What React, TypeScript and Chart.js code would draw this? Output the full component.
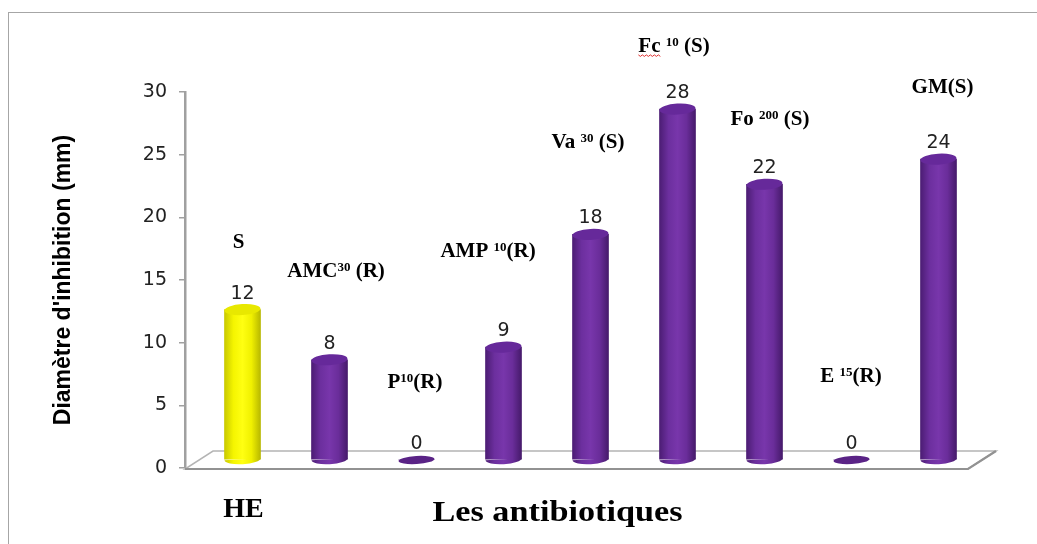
import React, { useEffect, useRef } from 'react';
import { Chart, registerables } from 'chart.js';

Chart.register(...registerables);

// ---- data ----
const categories = ['HE', 'AMC', 'P', 'AMP', 'Va', 'Fc', 'Fo', 'E', 'GM'];
const diameters = [12, 8, 0, 9, 18, 28, 22, 0, 24];
const yTicks = [0, 5, 10, 15, 20, 25, 30];
const yAxisTitle = "Diamètre d'inhibition (mm)";
const xAxisTitle = 'Les antibiotiques';

// annotation texts (name, superscript, suffix)
const annotationMain = ['S', 'AMC', 'P', 'AMP ', 'Va ', 'Fc ', 'Fo ', 'E ', 'GM(S)'];
const annotationSup = ['', '30', '10', '10', '30', '10', '200', '15', ''];
const annotationSuffix = ['', ' (R)', '(R)', '(R)', ' (S)', ' (S)', ' (S)', '(R)', ''];

// annotation layout (category units / value units)
const annotationX = [0.115, 1.236, 2.144, 2.983, 4.132, 5.121, 6.224, 7.155, 8.207];
const annotationY = [17.56, 15.24, 6.38, 16.84, 25.54, 33.2, 27.37, 6.86, 29.93];
const annotationSquiggle = [false, false, false, false, false, true, false, false, false];

// styles
const barStyles = ['yellow', 'purple', 'purple', 'purple', 'purple', 'purple', 'purple', 'purple', 'purple'];
const palettes: Record<string, { stops: [number, string][]; top: string; disc: string }> = {
  yellow: {
    stops: [[0, '#c9c900'], [0.25, '#f5f500'], [0.5, '#ffff12'], [0.75, '#f0f000'], [1, '#b8b800']],
    top: '#e8e800',
    disc: '#d6d600',
  },
  purple: {
    stops: [[0, '#4c1d74'], [0.25, '#6c2f9e'], [0.5, '#7836ab'], [0.75, '#6a2d9a'], [1, '#461a6b']],
    top: '#66299a',
    disc: '#5a2386',
  },
};

const SHIFT_X = 14;
const SHIFT_Y = -8;
const FLOOR_DX = 28;
const FLOOR_DY = 18;
const ROT = -0.06;

function barGradient(ctx: CanvasRenderingContext2D, x: number, w: number, key: string) {
  const g = ctx.createLinearGradient(x - w / 2, 0, x + w / 2, 0);
  palettes[key].stops.forEach(([o, c]) => g.addColorStop(o, c));
  return g;
}

const cylinderPlugin = {
  id: 'cylinders',
  beforeDraw(chart: any) {
    const ctx = chart.ctx as CanvasRenderingContext2D;
    ctx.save();
    ctx.strokeStyle = '#a6a6a6';
    ctx.lineWidth = 1;
    ctx.strokeRect(8.5, 12.5, 1200, 800);
    ctx.restore();
  },
  beforeDatasetsDraw(chart: any) {
    const ctx = chart.ctx as CanvasRenderingContext2D;
    const a = chart.chartArea;
    const yb = chart.scales.y.getPixelForValue(0) + 1;
    ctx.save();
    ctx.beginPath();
    ctx.moveTo(a.left, yb);
    ctx.lineTo(a.right, yb);
    ctx.lineTo(a.right + FLOOR_DX, yb - FLOOR_DY);
    ctx.lineTo(a.left + FLOOR_DX, yb - FLOOR_DY);
    ctx.closePath();
    ctx.fillStyle = '#ffffff';
    ctx.fill();
    ctx.strokeStyle = '#b4b4b4';
    ctx.lineWidth = 1.5;
    ctx.stroke();
    ctx.beginPath();
    ctx.moveTo(a.left, yb);
    ctx.lineTo(a.right, yb);
    ctx.lineTo(a.right + FLOOR_DX, yb - FLOOR_DY);
    ctx.strokeStyle = '#929292';
    ctx.lineWidth = 2.2;
    ctx.stroke();
    ctx.restore();
    ctx.save();
    ctx.translate(SHIFT_X, SHIFT_Y);
  },
  afterDatasetsDraw(chart: any) {
    const ctx = chart.ctx as CanvasRenderingContext2D;
    const meta = chart.getDatasetMeta(0);
    meta.data.forEach((el: any, i: number) => {
      const { x, y, base, width } = el.getProps(['x', 'y', 'base', 'width'], true);
      const key = barStyles[i];
      const rx = width / 2;
      if (diameters[i] === 0) {
        ctx.beginPath();
        ctx.ellipse(x, base, rx, 4, ROT, 0, Math.PI * 2);
        ctx.fillStyle = palettes[key].disc;
        ctx.fill();
      } else {
        ctx.beginPath();
        ctx.ellipse(x, base, rx, 5, ROT, 0, Math.PI);
        ctx.fillStyle = barGradient(ctx, x, width, key);
        ctx.fill();
        ctx.beginPath();
        ctx.ellipse(x, y, rx, 5.5, ROT, 0, Math.PI * 2);
        ctx.fillStyle = palettes[key].top;
        ctx.fill();
      }
      ctx.fillStyle = '#222';
      ctx.font = '19px "DejaVu Sans"';
      ctx.textAlign = 'center';
      ctx.textBaseline = 'alphabetic';
      ctx.fillText(String(diameters[i]), x, y - 11);
    });
    ctx.restore();

    // annotations
    const xs = chart.scales.x;
    const ys = chart.scales.y;
    const mainFont = 'bold 21px "Liberation Serif"';
    const supFont = 'bold 13px "Liberation Serif"';
    ctx.save();
    ctx.fillStyle = '#000';
    ctx.textBaseline = 'alphabetic';
    ctx.textAlign = 'left';
    annotationMain.forEach((m, i) => {
      const idx = Math.floor(annotationX[i]);
      const frac = annotationX[i] - idx;
      const step = xs.getPixelForValue(1) - xs.getPixelForValue(0);
      const cx = xs.getPixelForValue(idx) + frac * step;
      const by = ys.getPixelForValue(annotationY[i]);
      ctx.font = mainFont;
      const wm = ctx.measureText(m).width;
      const ws = ctx.measureText(annotationSuffix[i]).width;
      ctx.font = supFont;
      const wsup = ctx.measureText(annotationSup[i]).width;
      let x0 = cx - (wm + ws + wsup) / 2;
      ctx.font = mainFont;
      ctx.fillText(m, x0, by);
      if (annotationSquiggle[i]) {
        const wFc = ctx.measureText(m.trim()).width;
        ctx.save();
        ctx.strokeStyle = '#e03030';
        ctx.lineWidth = 1;
        ctx.beginPath();
        for (let k = 0; k <= wFc; k += 2) {
          const yy = by + 3 + (Math.floor(k / 2) % 2 === 0 ? 0 : 1.5);
          if (k === 0) ctx.moveTo(x0 + k, yy);
          else ctx.lineTo(x0 + k, yy);
        }
        ctx.stroke();
        ctx.restore();
      }
      x0 += wm;
      ctx.font = supFont;
      ctx.fillText(annotationSup[i], x0, by - 6);
      x0 += wsup;
      ctx.font = mainFont;
      ctx.fillText(annotationSuffix[i], x0, by);
    });

    // x axis title
    const a = chart.chartArea;
    ctx.font = 'bold 29px "Liberation Serif"';
    ctx.textAlign = 'center';
    const tx = (a.left + a.right) / 2 - 19;
    const ty = a.bottom + 53;
    ctx.translate(tx, ty);
    ctx.scale(1.18, 1);
    ctx.fillText(xAxisTitle, 0, 0);
    ctx.restore();
  },
};

export default function App() {
  const ref = useRef<HTMLCanvasElement>(null);
  useEffect(() => {
    if (!ref.current) return;
    const chart = new Chart(ref.current, {
      type: 'bar',
      data: {
        labels: categories,
        datasets: [
          {
            data: diameters,
            barThickness: 36,
            borderWidth: 0,
            backgroundColor: (c: any) => {
              const key = barStyles[c.dataIndex] || 'purple';
              const xs = c.chart.scales.x;
              const x = xs ? xs.getPixelForValue(c.dataIndex) : NaN;
              if (!Number.isFinite(x)) return palettes[key].stops[2][1];
              return barGradient(c.chart.ctx, x, 36, key);
            },
          },
        ],
      },
      options: {
        responsive: false,
        animation: false,
        devicePixelRatio: 1,
        layout: { padding: { left: 0, right: 69, top: 92, bottom: 0 } },
        plugins: { legend: { display: false }, tooltip: { enabled: false } },
        scales: {
          x: {
            grid: { display: false },
            border: { display: false },
            ticks: {
              autoSkip: false,
              maxRotation: 0,
              labelOffset: 15,
              padding: 17,
              color: '#000',
              font: { family: 'Liberation Serif', weight: 'bold', size: 28 },
              callback: (_v: any, i: number) => (i === 0 ? categories[0] : ''),
            },
            afterFit: (s: any) => {
              s.height = 76;
            },
          },
          y: {
            min: yTicks[0],
            max: yTicks[yTicks.length - 1],
            ticks: {
              stepSize: yTicks[1] - yTicks[0],
              padding: 12,
              color: '#222',
              font: { family: 'DejaVu Sans', size: 19 },
            },
            grid: {
              display: true,
              drawOnChartArea: false,
              drawTicks: true,
              tickLength: 6,
              color: '#a0a0a0',
              lineWidth: 1.5,
            },
            border: { display: true, color: '#a0a0a0', width: 2.5 },
            title: {
              display: true,
              text: yAxisTitle,
              color: '#000',
              font: { family: 'Liberation Sans', weight: 'bold', size: 23 },
              padding: { top: 50, bottom: 0 },
            },
            afterFit: (s: any) => {
              s.width = 185;
            },
          },
        },
      },
      plugins: [cylinderPlugin],
    });
    return () => chart.destroy();
  }, []);
  return (
    <div style={{ position: 'fixed', left: 0, top: 0, width: 1037, height: 544, background: '#fff' }}>
      <canvas ref={ref} width={1037} height={544} style={{ display: 'block' }} />
    </div>
  );
}
